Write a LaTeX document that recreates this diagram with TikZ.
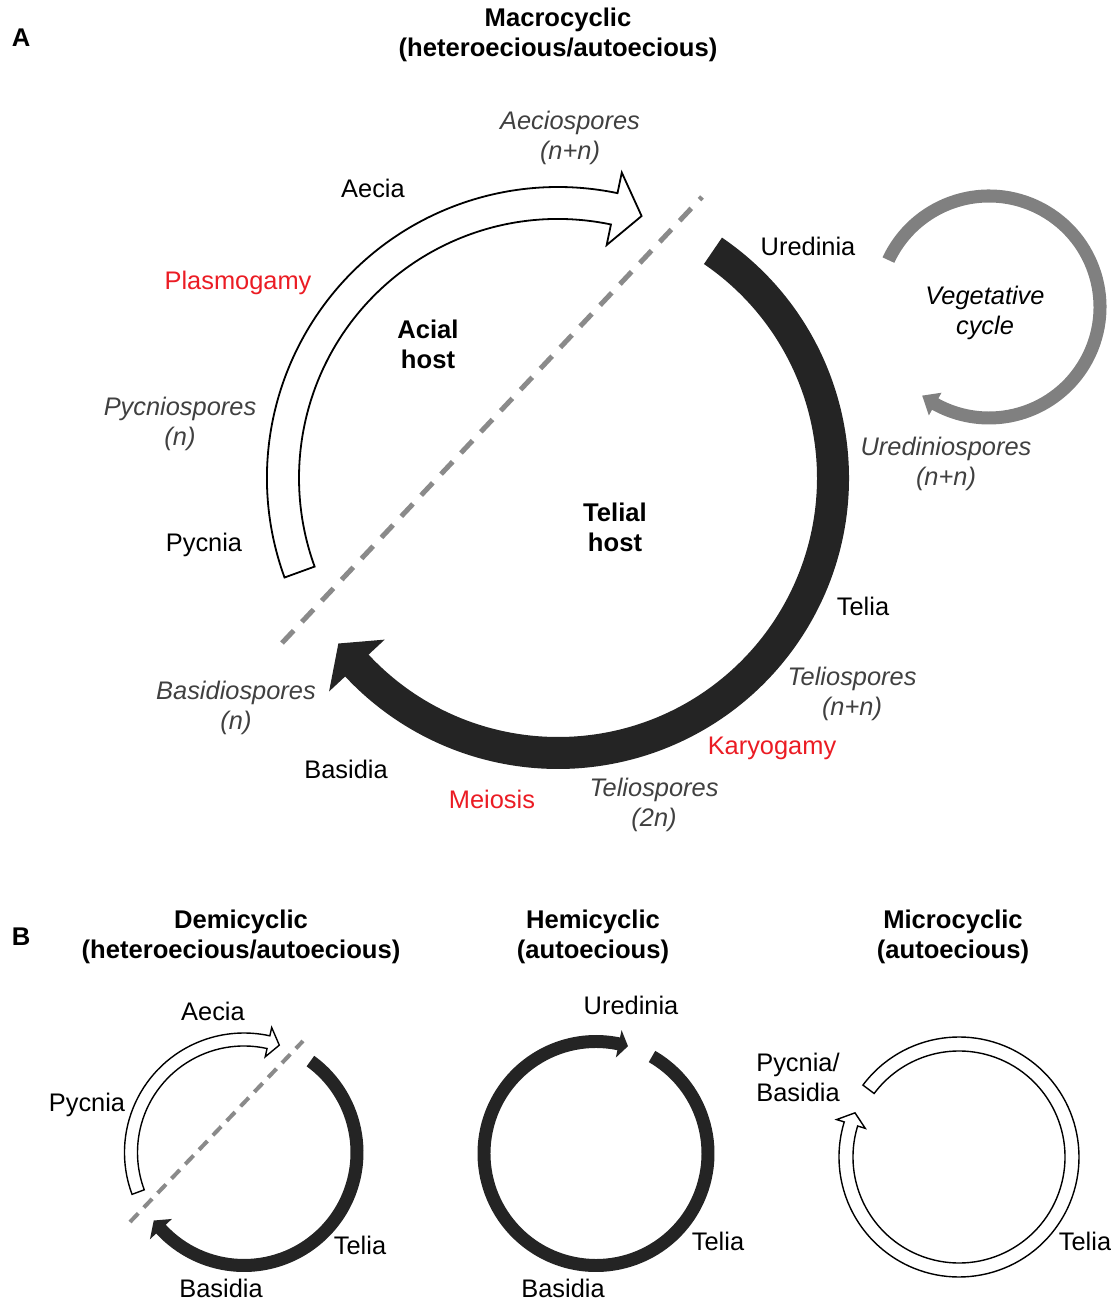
\documentclass[tikz,border=0pt]{standalone}
\usepackage{fontspec}
\setmainfont{Liberation Sans}
\definecolor{arcblack}{RGB}{36,36,36}
\definecolor{veggray}{RGB}{128,128,128}
\definecolor{dashgray}{RGB}{138,138,138}
\definecolor{spgray}{RGB}{64,64,64}
\definecolor{redlbl}{RGB}{235,28,36}
\newcommand\bandarrow[8]{%
  \path[#1, shift={#2}]
    (#6:{#3+#4}) arc[start angle=#6, end angle=#7, radius={#3+#4}]
    -- (#7:{#3+#5}) -- (#8:#3) -- (#7:{#3-#5}) -- (#7:{#3-#4})
    arc[start angle=#7, end angle=#6, radius={#3-#4}] -- cycle;}
\tikzset{
  lbl/.style={inner sep=0pt, align=center, font=\fontsize{25.4}{30}\selectfont},
  boldlbl/.style={lbl, font=\fontsize{25.6}{30}\selectfont\bfseries},
  spore/.style={lbl, text=spgray, font=\fontsize{25.4}{30}\selectfont\itshape},
  proc/.style={lbl, text=redlbl},
  blackband/.style={fill=arcblack},
  whiteband/.style={fill=white, draw=black, line width=1.8pt, line join=miter},
  thinwhiteband/.style={whiteband, line width=1.4pt},
  grayband/.style={fill=veggray},
  hostline/.style={draw=dashgray, line width=5pt, dash pattern=on 17pt off 12pt},
  smallhostline/.style={draw=dashgray, line width=4pt, dash pattern=on 12pt off 8pt},
}
\begin{document}
\begin{tikzpicture}[x=1pt,y=1pt]
\useasboundingbox (0,0) rectangle (1111,1302);
% ---------- Panel A ----------
\bandarrow{whiteband}{(558,824)}{275}{16}{37}{200}{78.2}{72.3}
\bandarrow{blackband}{(558,824)}{275}{16}{38}{55.7}{-137}{-143}
\bandarrow{grayband}{(989,995)}{111}{6.5}{13}{155}{-119}{-127}
\coordinate (hA1) at (282,659);
\coordinate (hA2) at (702,1105);
\draw[hostline] (hA1) -- (hA2);

\node[boldlbl] (labA) at (21,1264) {A};
\node[boldlbl] (titA) at (558,1267) {Macrocyclic\\(heteroecious/autoecious)};
\node[spore] (aeciosp) at (570,1164) {Aeciospores\\(n+n)};
\node[lbl] (aecia) at (373,1114) {Aecia};
\node[lbl] (uredinia) at (808,1056) {Uredinia};
\node[proc] (plasmo) at (238,1019) {Plasmogamy};
\node[boldlbl] (acial) at (428,958) {Acial\\host};
\node[spore, text=black] (veg) at (985,989) {Vegetative\\cycle};
\node[spore] (pycnio) at (180,878) {Pycniospores\\(n)};
\node[spore] (uredsp) at (946,838) {Urediniospores\\(n+n)};
\node[boldlbl] (telial) at (615,775) {Telial\\host};
\node[lbl] (pycnia) at (204,757) {Pycnia};
\node[lbl] (telia) at (863,696) {Telia};
\node[spore] (teliosp1) at (852,608) {Teliospores\\(n+n)};
\node[spore] (basidsp) at (236,594) {Basidiospores\\(n)};
\node[proc] (karyo) at (772,554) {Karyogamy};
\node[lbl] (basidia) at (346,533) {Basidia};
\node[proc] (meiosis) at (492,503) {Meiosis};
\node[spore] (teliosp2) at (654,497) {Teliospores\\(2n)};

% ---------- Panel B ----------
\node[boldlbl] (labB) at (21,365) {B};
\node[boldlbl] (titD) at (241,365) {Demicyclic\\(heteroecious/autoecious)};
\node[boldlbl] (titH) at (593,365) {Hemicyclic\\(autoecious)};
\node[boldlbl] (titM) at (953,365) {Microcyclic\\(autoecious)};

% Demicyclic
\bandarrow{thinwhiteband}{(244,149.5)}{113}{6.5}{15}{200.5}{77.5}{71.8}
\bandarrow{blackband}{(244,149.5)}{113}{6.5}{15}{54}{-137.3}{-143}
\coordinate (hD1) at (130,80);
\coordinate (hD2) at (303,261);
\draw[smallhostline] (hD1) -- (hD2);
\node[lbl] (daecia) at (213,291) {Aecia};
\node[lbl] (dpycnia) at (87,197) {Pycnia};
\node[lbl] (dtelia) at (360,57) {Telia};
\node[lbl] (dbasidia) at (221,14) {Basidia};

% Hemicyclic
\bandarrow{blackband}{(596,148.5)}{112}{6.5}{14}{60}{-281.7}{-286.6}
\node[lbl] (huredinia) at (631,297) {Uredinia};
\node[lbl] (htelia) at (718,61) {Telia};
\node[lbl] (hbasidia) at (563,14) {Basidia};

% Microcyclic
\bandarrow{thinwhiteband}{(959,145)}{113}{7}{15}{143.2}{-197}{-203}
\node[lbl, align=left] (mpb) at (798,225) {Pycnia/\\Basidia};
\node[lbl] (mtelia) at (1085,61) {Telia};
\end{tikzpicture}
\end{document}
